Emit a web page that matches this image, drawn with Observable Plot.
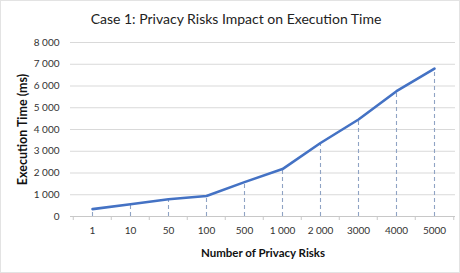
<!DOCTYPE html>
<html><head><meta charset="utf-8">
<script src="https://cdn.jsdelivr.net/npm/d3@7"></script>
<script src="https://cdn.jsdelivr.net/npm/@observablehq/plot@0.6"></script>
<style>
body{margin:0;background:#fff;}
#wrap{position:relative;width:458px;height:271px;border:1px solid #e3e3e3;background:#fff;font-family:Lato,"Open Sans",sans-serif;}
#title{height:29px;line-height:36px;text-align:center;font-size:14px;color:#222;padding-left:12px;}
svg{display:block;overflow:visible;}
</style></head><body>
<div id="wrap"><div id="title">Case 1: Privacy Risks Impact on Execution Time</div><div id="chart"></div></div>
<script>
const categories = ["1","10","50","100","500","1 000","2 000","3000","4000","5000"];
const times = [340, 560, 790, 940, 1580, 2180, 3380, 4460, 5760, 6800];
const yTicks = [0,1000,2000,3000,4000,5000,6000,7000,8000];
const yTickLabels = ["0","1 000","2 000","3 000","4 000","5 000","6 000","7 000","8 000"];
const yTitle = "Execution Time (ms)";
const xTitle = "Number of Privacy Risks";

const data = categories.map((c,i)=>({cat:c, v:times[i]}));
const fmt = d => yTickLabels[yTicks.indexOf(d)];
const W = 458, ML = 69, MR = 4;
const half = (W - ML - MR) / categories.length / 2;

const plot = Plot.plot({
  width: W, height: 242,
  marginTop: 12, marginBottom: 56, marginLeft: ML, marginRight: MR,
  style:{fontFamily:"Lato, 'Open Sans', sans-serif", fontSize:"10px", color:"#333", background:"transparent", overflow:"visible"},
  x:{type:"band", domain:categories, padding:0, label:null},
  y:{domain:[0,8000], label:null},
  marks:[
    Plot.gridY(yTicks, {stroke:"#d9d9d9", strokeOpacity:1, strokeWidth:1}),
    Plot.axisX(categories, {tickSize:4, text:null, dx:-half, stroke:"#c8c8c8", label:null}),
    Plot.axisX([categories[categories.length-1]], {tickSize:4, text:null, dx:half, stroke:"#c8c8c8", label:null}),
    Plot.ruleY([0], {stroke:"#c8c8c8"}),
    Plot.axisY(yTicks, {tickFormat:fmt, tickSize:0, tickPadding:11, fontSize:10, fill:"#333",
      label:yTitle, labelAnchor:"center", labelOffset:52, labelArrow:"none"}),
    Plot.axisX({tickSize:0, tickPadding:10, fontSize:10, fill:"#333"}),
    Plot.ruleX(data, {x:"cat", y1:0, y2:"v", stroke:"#8fa3c4", strokeDasharray:"4,3", strokeWidth:1.1}),
    Plot.line(data, {x:"cat", y:"v", stroke:"#4472c4", strokeWidth:2.6}),
    Plot.text([xTitle], {frameAnchor:"bottom", dy:40, fontWeight:"bold", fontSize:11.5, fill:"#111"})
  ]
});
document.getElementById("chart").appendChild(plot);
// style the y axis title (bold, dark), without arrow
const lab = d3.select(plot).select("[aria-label='y-axis label']");
lab.attr("font-weight","bold").attr("font-size",12.5).attr("fill","#111");
lab.selectAll("text").text(yTitle).attr("font-weight","bold").attr("fill","#111");
</script>
</body></html>
